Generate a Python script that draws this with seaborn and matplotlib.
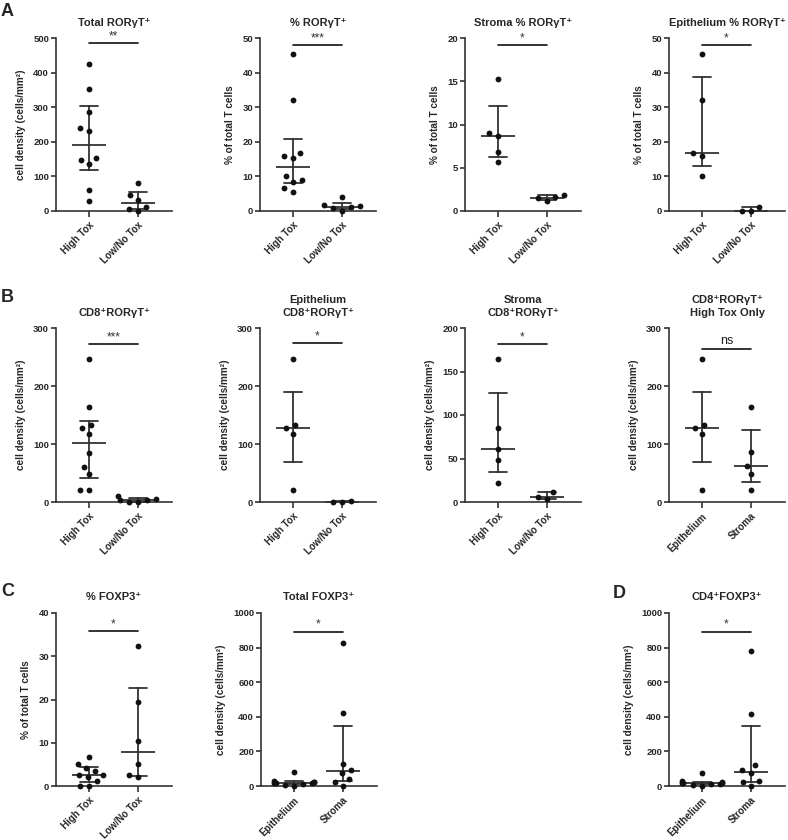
import warnings
import numpy as np
import pandas as pd
import seaborn as sns
import matplotlib.pyplot as plt

warnings.filterwarnings('ignore')

# Values
tox_groups = ['High Tox', 'Low/No Tox']
site_groups = ['Epithelium', 'Stroma']

total_roryt_high = [426, 354, 287, 231, 241, 153, 136, 148, 61, 28]
total_roryt_low = [0, 46, 81, 32, 12, 7]
pct_roryt_high = [45.4, 32.1, 16.9, 15.3, 15.8, 10.2, 8.5, 8.9, 5.6, 6.7]
pct_roryt_low = [0.1, 0.9, 1.2, 1.4, 1.6, 4.1]
stroma_pct_high = [15.3, 9.0, 8.65, 6.8, 5.65]
stroma_pct_low = [1.15, 1.5, 1.6, 1.9]
epi_pct_high = [45.4, 32.1, 16.9, 15.8, 10.2]
epi_pct_low = [0, 1.25, 0]

cd8_high = [246, 163.5, 127, 132, 117, 85, 61, 48, 21, 21]
cd8_low = [0, 6, 3, 4, 10, 0]
epi_cd8_high = [246, 127, 132, 117, 21]
epi_cd8_low = [0, 1.7, 0]
stroma_cd8_high = [164, 85.6, 61.4, 48, 21.5]
stroma_cd8_low = [11, 3, 5.8]

foxp3_pct_high = [6.8, 5.0, 4.2, 3.5, 2.6, 2.5, 2.1, 1.2, 0.1, 0]
foxp3_pct_low = [32.3, 19.4, 10.3, 5.2, 2.0, 2.5]
total_foxp3_epi = [80, 30, 25, 22, 20, 18, 15, 12, 8, 2]
total_foxp3_stroma = [829, 421, 129, 94, 75, 40, 23, 0]
cd4_foxp3_epi = [75, 28, 22, 20, 18, 15, 12, 10, 5, 0]
cd4_foxp3_stroma = [781, 419, 121, 90, 75, 31, 23, 0]

dens_label = 'cell density (cells/mm²)'
pct_label = '% of total T cells'

sns.set_style('ticks')
plt.rcParams['font.family'] = ['Liberation Sans', 'DejaVu Sans']
plt.rcParams['font.weight'] = 'bold'

INK = '#333333'


def iqr(x):
    # quartiles the way Prism reports them
    return (np.percentile(x, 25, method='weibull'), np.percentile(x, 75, method='weibull'))


def draw_panel(rect, title, ylabel, groups, first, second, ymax, step, sig, sig_y):
    ax = fig.add_axes(rect)
    df = pd.DataFrame({'group': [groups[0]] * len(first) + [groups[1]] * len(second),
                       'value': list(first) + list(second)})
    # invisible wide edge keeps the dots spaced apart like the original
    sns.swarmplot(data=df, x='group', y='value', order=groups, color='#111111',
                  size=4.2, linewidth=2.2, edgecolor=(0, 0, 0, 0), ax=ax,
                  clip_on=False, zorder=3)
    sns.pointplot(data=df, x='group', y='value', order=groups, estimator='median',
                  errorbar=iqr, capsize=0.36, linestyle='none', marker='_',
                  markersize=25, markeredgewidth=1.3, markeredgecolor=INK,
                  color=INK, err_kws={'linewidth': 1.3}, ax=ax)
    for c in ax.collections:
        c.set_clip_on(False)
    for l in ax.lines:
        l.set_clip_on(False)

    ax.set_xlim(-0.67, 1.69)
    ax.set_ylim(0, ymax)
    ax.set_yticks(np.arange(0, ymax + 1e-9, step))
    sns.despine(ax=ax)
    for s in ['left', 'bottom']:
        ax.spines[s].set_linewidth(1.2)
        ax.spines[s].set_color(INK)
    ax.tick_params(axis='y', length=3.5, width=1.2, color=INK, labelsize=6.8, pad=1.5)
    ax.tick_params(axis='x', length=4.5, width=1.2, color=INK, labelsize=7, pad=2)
    plt.setp(ax.get_xticklabels(), rotation=45, ha='right', rotation_mode='anchor')
    ax.set_xlabel('')
    ax.set_ylabel(ylabel, fontsize=7.2, fontweight='bold', labelpad=5)
    ax.set_title(title, fontsize=8, fontweight='bold', pad=9, linespacing=1.3)

    # significance bracket
    ax.plot([0, 1], [sig_y, sig_y], color='#111111', lw=1.2, clip_on=False)
    if sig == 'ns':
        ax.annotate(sig, (0.5, sig_y), xytext=(0, 1.5), textcoords='offset points',
                    ha='center', va='bottom', fontsize=9, fontweight='normal', color='#222222')
    else:
        ax.annotate(sig, (0.5, sig_y), xytext=(0, 0.5), textcoords='offset points',
                    ha='center', va='bottom', fontsize=8.5, fontweight='normal', color='#333333')
    return ax


fig = plt.figure(figsize=(7.88, 8.4), dpi=100)

W, H = 788, 840


def rect(left_px, top_px, bottom_px, width_px=116):
    return [left_px / W, 1 - bottom_px / H, width_px / W, (bottom_px - top_px) / H]


cols = [56, 260, 465, 669]

# Row A
draw_panel(rect(cols[0], 38, 211), 'Total RORγT⁺', dens_label, tox_groups,
           total_roryt_high, total_roryt_low, 500, 100, '**', 485)
draw_panel(rect(cols[1], 38, 211), '% RORγT⁺', pct_label, tox_groups,
           pct_roryt_high, pct_roryt_low, 50, 10, '***', 48)
draw_panel(rect(cols[2], 38, 211), 'Stroma % RORγT⁺', pct_label, tox_groups,
           stroma_pct_high, stroma_pct_low, 20, 5, '*', 19.2)
draw_panel(rect(cols[3], 38, 211), 'Epithelium % RORγT⁺', pct_label, tox_groups,
           epi_pct_high, epi_pct_low, 50, 10, '*', 47.9)

# Row B
draw_panel(rect(cols[0], 328, 502), 'CD8⁺RORγT⁺', dens_label, tox_groups,
           cd8_high, cd8_low, 300, 100, '***', 273)
draw_panel(rect(cols[1], 328, 502), 'Epithelium\nCD8⁺RORγT⁺', dens_label, tox_groups,
           epi_cd8_high, epi_cd8_low, 300, 100, '*', 274)
draw_panel(rect(cols[2], 328, 502), 'Stroma\nCD8⁺RORγT⁺', dens_label, tox_groups,
           stroma_cd8_high, stroma_cd8_low, 200, 50, '*', 182)
draw_panel(rect(cols[3], 328, 502), 'CD8⁺RORγT⁺\nHigh Tox Only', dens_label, site_groups,
           epi_cd8_high, stroma_cd8_high, 300, 100, 'ns', 264)

# Row C / D
draw_panel(rect(cols[0], 613, 786), '% FOXP3⁺', pct_label, tox_groups,
           foxp3_pct_high, foxp3_pct_low, 40, 10, '*', 35.8)
draw_panel(rect(261, 613, 786), 'Total FOXP3⁺', dens_label, site_groups,
           total_foxp3_epi, total_foxp3_stroma, 1000, 200, '*', 893)
draw_panel(rect(cols[3], 613, 786), 'CD4⁺FOXP3⁺', dens_label, site_groups,
           cd4_foxp3_epi, cd4_foxp3_stroma, 1000, 200, '*', 893)

# panel letters
for letter, x_px, y_px in [('A', 1, 3), ('B', 1, 289), ('C', 1, 583), ('D', 613, 585)]:
    fig.text(x_px / W, 1 - y_px / H, letter, fontsize=13, fontweight='bold', va='top', ha='left')

fig.savefig('out.png', dpi=100)
